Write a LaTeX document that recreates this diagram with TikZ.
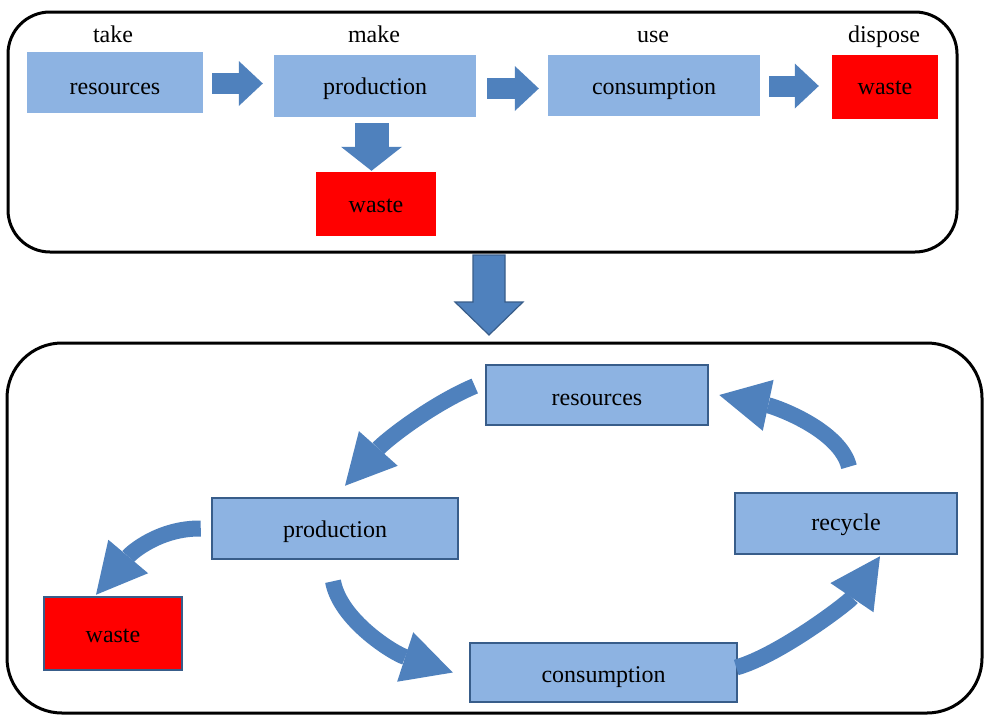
\documentclass[tikz,border=0pt]{standalone}
\usepackage{fontspec}
\setmainfont{Liberation Serif}
\usetikzlibrary{arrows.meta,calc}
\definecolor{boxblue}{HTML}{8DB3E2}
\definecolor{arrblue}{HTML}{4F81BD}
\definecolor{edgeblue}{HTML}{385D8A}
\definecolor{wred}{HTML}{FF0000}
\tikzset{
  txt/.style={font=\fontsize{24}{28}\selectfont, text height=20pt, text depth=4pt},
  tbox/.style={txt, fill=boxblue, inner sep=0pt},
  tred/.style={txt, fill=wred, inner sep=0pt},
  bbox/.style={tbox, draw=edgeblue, line width=2.5pt},
  bred/.style={tred, draw=edgeblue, line width=2.5pt},
  lbl/.style={font=\fontsize{24}{28}\selectfont, anchor=base, inner sep=0pt},
  frame/.style={draw=black, line width=3pt},
  sarrow/.style={draw=arrblue, line width=21pt, -{Triangle[length=24pt,width=45pt,line width=0pt]}},
  carrow/.style={draw=arrblue, line width=16pt, -{Triangle[length=50pt,width=52pt,line width=0pt]}},
  bigarrow/.style={fill=arrblue, draw=edgeblue, line width=1.2pt, line join=miter}
}
\begin{document}
\begin{tikzpicture}[x=1pt,y=-1pt]
\useasboundingbox (0,0) rectangle (987,720);
\fill[white] (0,0) rectangle (987,720);
% frames
\draw[frame, rounded corners=42pt] (8,12) rectangle (957,252);
\draw[frame, rounded corners=55pt] (7,343) rectangle (982,713);
% top row
\node[lbl] (ltake) at (113,42) {take};
\node[lbl] (lmake) at (374,42) {make};
\node[lbl] (luse) at (653,42) {use};
\node[lbl] (ldisp) at (884,42) {dispose};
\node[tbox, text height=27pt, minimum width=176pt, minimum height=61pt] (tres) at (115,82.5) {resources};
\node[tbox, minimum width=202pt, minimum height=62pt] (tprod) at (375,86) {production};
\node[tbox, text height=21pt, minimum width=212pt, minimum height=61pt] (tcons) at (654,85.5) {consumption};
\node[tred, text height=18pt, minimum width=106pt, minimum height=64pt] (twasteA) at (885,87) {waste};
\node[tred, minimum width=120pt, minimum height=64pt] (twasteB) at (376,204) {waste};
\draw[sarrow] ($(tres.east)+(9,1)$) -- ($(tprod.west)+(-11,-2.5)$);
\draw[sarrow] ($(tprod.east)+(11,2.5)$) -- ($(tcons.west)+(-9,3)$);
\draw[sarrow] ($(tcons.east)+(9,0.5)$) -- ($(twasteA.west)+(-13,-1)$);
\draw[sarrow, line width=34pt, -{Triangle[length=24pt,width=61pt,line width=0pt]}] ($(tprod.south)+(-3.5,6)$) -- ($(twasteB.north)+(-4.5,-1)$);
% big arrow between frames
\draw[bigarrow] (473,255) -- (505,255) -- (505,302) -- (523,302) -- (489,335) -- (455,302) -- (473,302) -- cycle;
% bottom cycle
\node[bbox, text height=24pt, minimum width=222pt, minimum height=60pt] (bres) at (597,395) {resources};
\node[bbox, text height=21pt, minimum width=246pt, minimum height=61pt] (bprod) at (335,528.5) {production};
\node[bred, text height=21pt, minimum width=138pt, minimum height=73pt] (bwaste) at (113,633.5) {waste};
\node[bbox, text height=17pt, minimum width=222pt, minimum height=61pt] (brec) at (846,523.5) {recycle};
\node[bbox, text height=23pt, minimum width=267pt, minimum height=59pt] (bcons) at (603.5,672.5) {consumption};
\draw[carrow] ($(bres.west)+(-10,-9)$) .. controls (430,405) and (385,441) .. ($(bprod.north)+(10,-11)$);
\draw[carrow] ($(bprod.west)+(-10,0)$) .. controls (160,528) and (132,552) .. ($(bwaste.north)+(-17,-1)$);
\draw[carrow] ($(bprod.south)+(-2,21)$) .. controls (340,620) and (393,653) .. ($(bcons.west)+(-16,0)$);
\draw[carrow] ($(bcons.east)+(-2,-5)$) .. controls (780,655) and (849,602) .. ($(brec.south)+(34,1)$);
\draw[carrow] ($(brec.north)+(3,-25)$) .. controls (840,430) and (776,407) .. ($(bres.east)+(10,0)$);
\end{tikzpicture}
\end{document}
